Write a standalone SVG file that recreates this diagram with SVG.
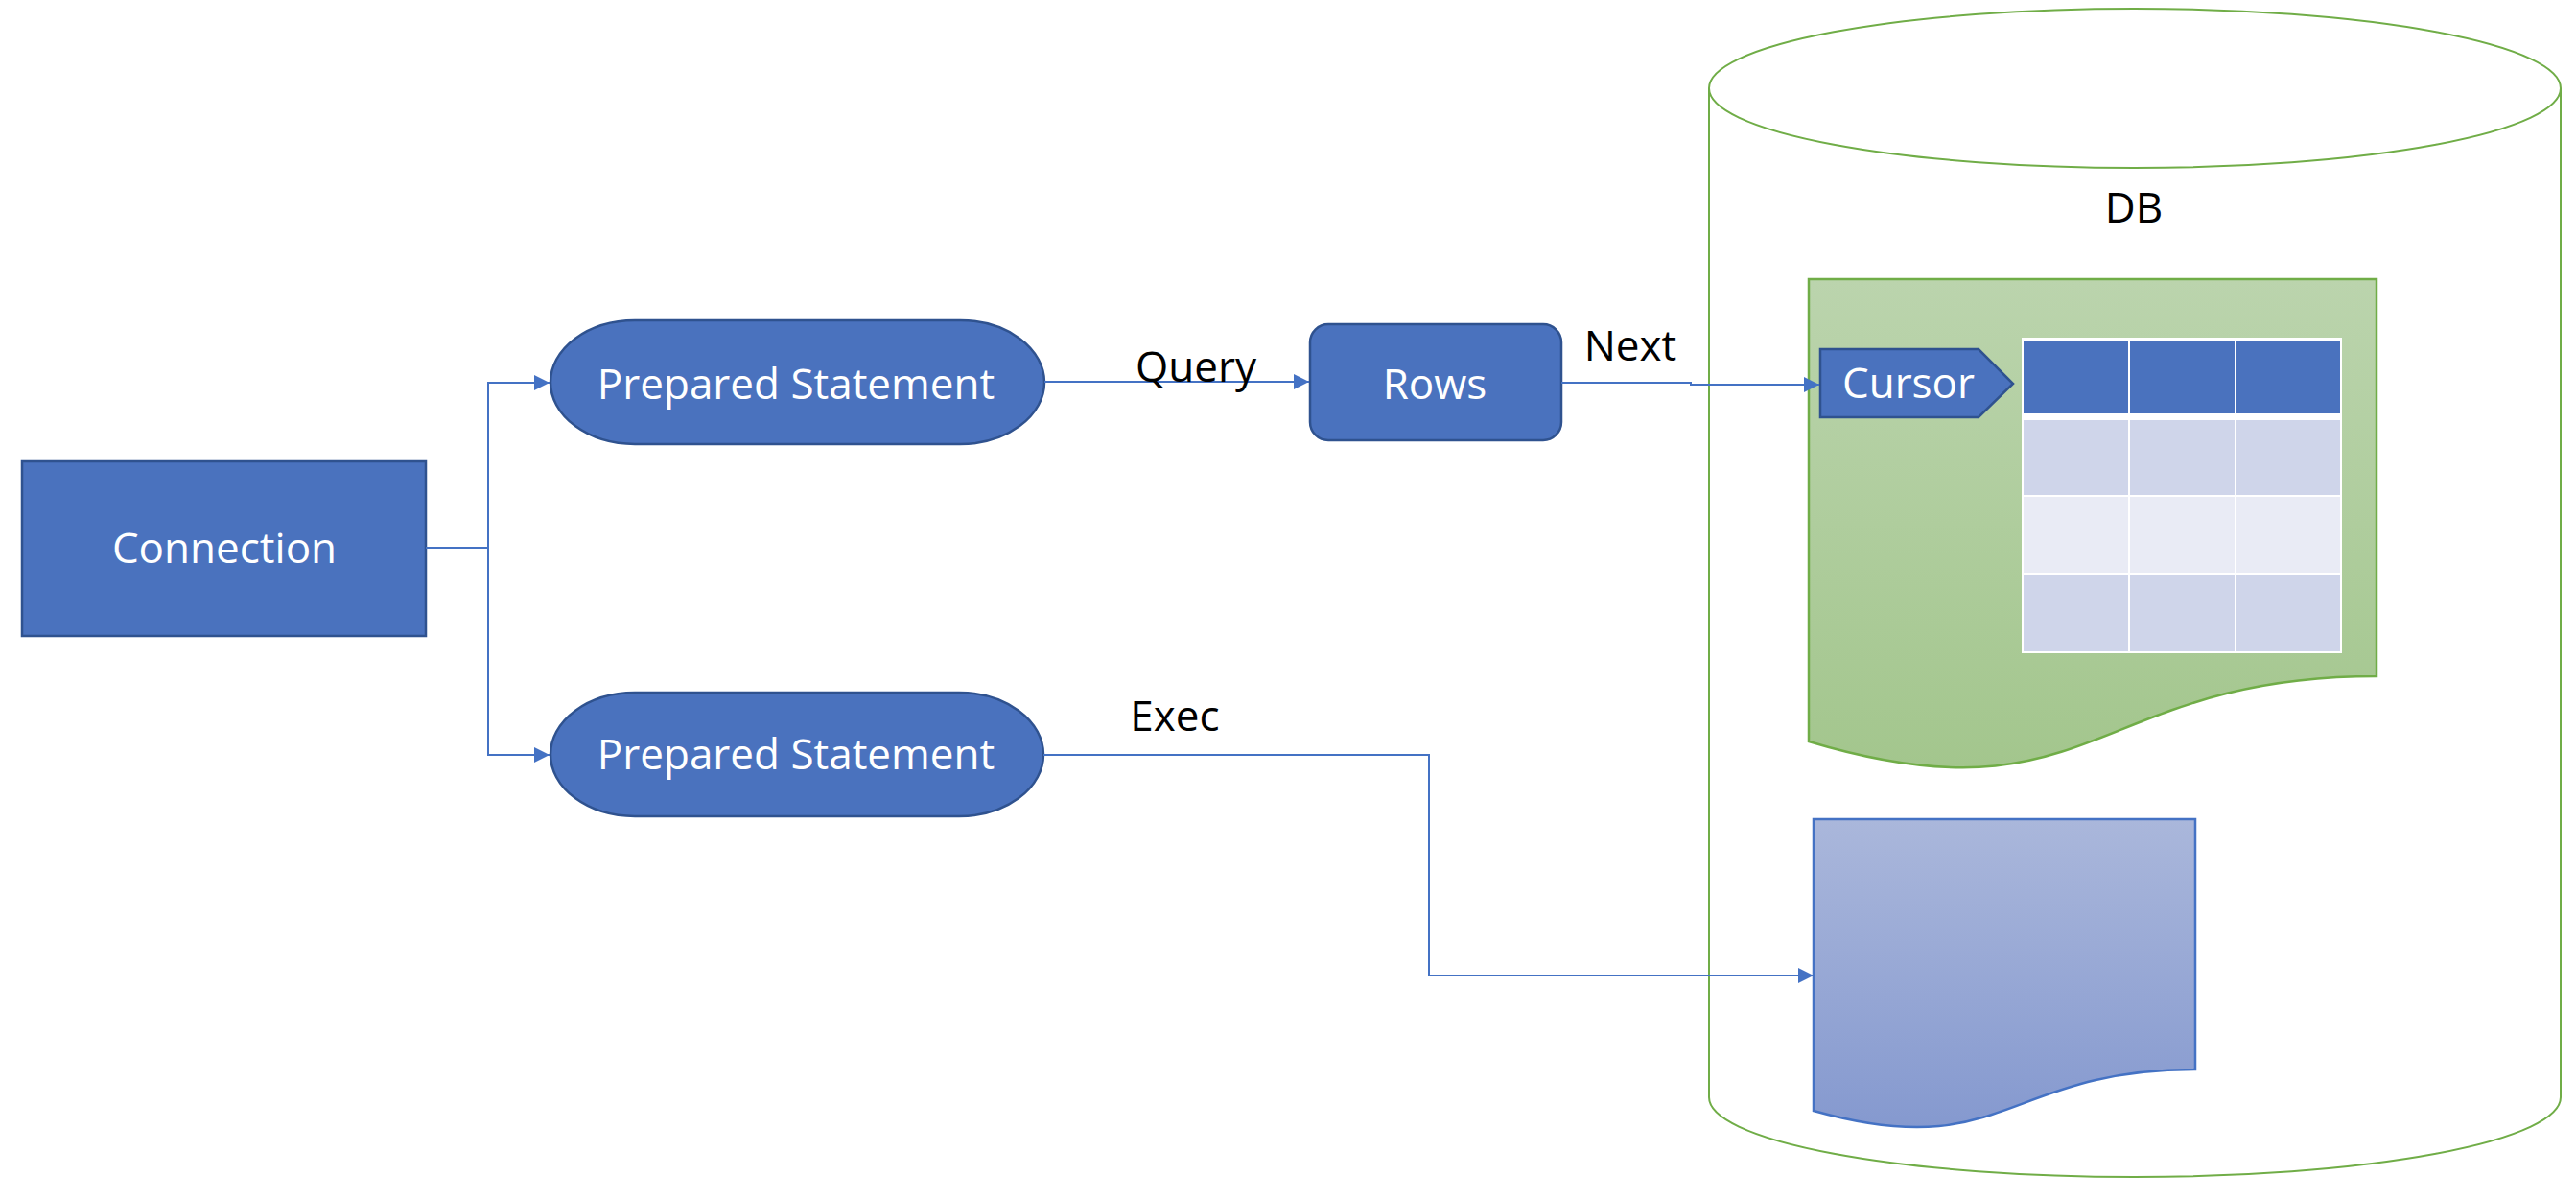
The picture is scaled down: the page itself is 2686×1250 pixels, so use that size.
<svg xmlns="http://www.w3.org/2000/svg" width="2686" height="1250" viewBox="0 0 2686 1250">
<defs>
<style>
.node{fill:#4A72BE;stroke:#2F528F;stroke-width:2.5}
.wt{font-family:"Open Sans","Noto Sans",sans-serif;font-size:44px;fill:#FFFFFF;text-anchor:middle}
.bt{font-family:"Open Sans","Noto Sans",sans-serif;font-size:44px;fill:#000000;text-anchor:middle}
.conn{fill:none;stroke:#4472C4;stroke-width:2}
.hdr{fill:#4A72BE}
.r1{fill:#CFD5EA}
.r2{fill:#E9EBF5}
</style>
<marker id="arr" markerUnits="userSpaceOnUse" markerWidth="17" markerHeight="17" refX="16" refY="8" orient="auto">
<path d="M0,0 L16,8 L0,16 Z" fill="#4472C4"/>
</marker>
<linearGradient id="gg" x1="0" y1="0" x2="0" y2="1">
<stop offset="0" stop-color="#BBD4AD"/>
<stop offset="1" stop-color="#A3C68D"/>
</linearGradient>
<linearGradient id="bg" x1="0" y1="0" x2="0" y2="1">
<stop offset="0" stop-color="#AAB7DB"/>
<stop offset="1" stop-color="#8599CF"/>
</linearGradient>
</defs>
<rect x="0" y="0" width="2686" height="1250" fill="#FFFFFF"/>

<g id="db">
<path d="M1782,92 L1782,1144 A444,83 0 0 0 2670,1144 L2670,92" fill="#FFFFFF" stroke="#70AD47" stroke-width="2"/>
<ellipse cx="2226" cy="92" rx="444" ry="83" fill="#FFFFFF" stroke="#70AD47" stroke-width="2"/>
<text class="bt" x="2225" y="232">DB</text>
</g>

<g id="resultset">
<path d="M1886,291 H2478 V705 C2182,705 2182,862 1886,773 Z" fill="url(#gg)" stroke="#70AD47" stroke-width="2.5"/>
<g id="table">
<rect x="2108" y="352" width="334" height="329" fill="#FFFFFF"/>
<rect class="hdr" x="2110" y="355" width="109" height="76"/>
<rect class="hdr" x="2221" y="355" width="109" height="76"/>
<rect class="hdr" x="2332" y="355" width="108" height="76"/>
<rect class="r1" x="2110" y="438" width="109" height="78"/>
<rect class="r1" x="2221" y="438" width="109" height="78"/>
<rect class="r1" x="2332" y="438" width="108" height="78"/>
<rect class="r2" x="2110" y="518" width="109" height="79"/>
<rect class="r2" x="2221" y="518" width="109" height="79"/>
<rect class="r2" x="2332" y="518" width="108" height="79"/>
<rect class="r1" x="2110" y="599" width="109" height="80"/>
<rect class="r1" x="2221" y="599" width="109" height="80"/>
<rect class="r1" x="2332" y="599" width="108" height="80"/>
</g>
</g>

<g id="cursor">
<path class="node" d="M1898,364 H2063 L2099,400 L2063,435 H1898 Z"/>
<text class="wt" x="1990" y="415">Cursor</text>
</g>

<g id="execdoc">
<path d="M1891,854 H2289 V1115 C2090,1115 2090,1214 1891,1158 Z" fill="url(#bg)" stroke="#4472C4" stroke-width="2.5"/>
</g>

<g id="connection">
<rect class="node" x="23" y="481" width="421" height="182"/>
<text class="wt" x="234" y="587">Connection</text>
</g>

<g id="ps1">
<rect class="node" x="574" y="334" width="515" height="129" rx="88" ry="64.5"/>
<text class="wt" x="830" y="416">Prepared Statement</text>
</g>

<g id="ps2">
<rect class="node" x="574" y="722" width="514" height="129" rx="88" ry="64.5"/>
<text class="wt" x="830" y="802">Prepared Statement</text>
</g>

<g id="rows">
<rect class="node" x="1366" y="338" width="262" height="121" rx="19" ry="19"/>
<text class="wt" x="1496" y="416">Rows</text>
</g>

<g id="connectors">
<path class="conn" d="M444,571 H509 V399 H573" marker-end="url(#arr)"/>
<path class="conn" d="M509,571 V787 H573" marker-end="url(#arr)"/>
<path class="conn" d="M1089,398 H1365" marker-end="url(#arr)"/>
<path class="conn" d="M1628,399 H1763 V401 H1897" marker-end="url(#arr)"/>
<path class="conn" d="M1088,787 H1490 V1017 H1891" marker-end="url(#arr)"/>
<text class="bt" x="1247" y="398">Query</text>
<text class="bt" x="1700" y="376">Next</text>
<text class="bt" x="1225" y="762">Exec</text>
</g>
</svg>
